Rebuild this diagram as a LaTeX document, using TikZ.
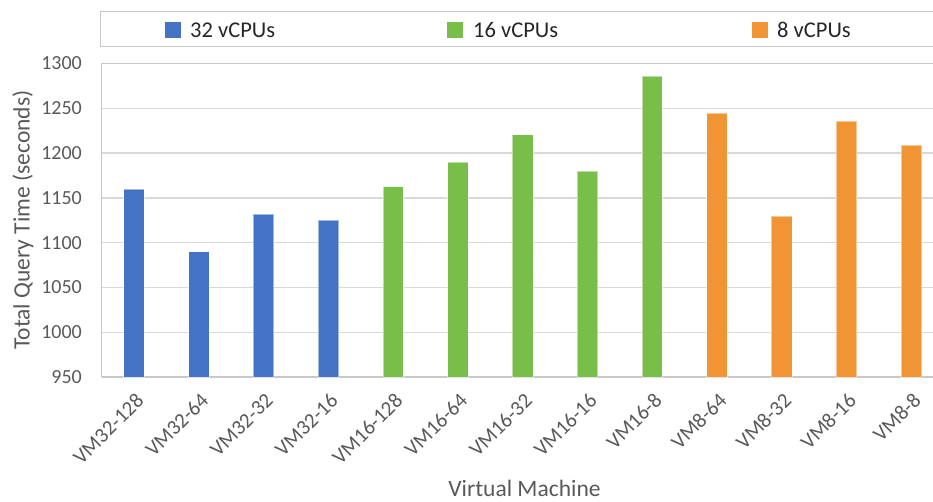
\documentclass[tikz,border=0pt]{standalone}
\usepackage{fontspec}
\setmainfont{Carlito}
\definecolor{cblue}{RGB}{68,114,196}
\definecolor{cgreen}{RGB}{122,190,74}
\definecolor{corange}{RGB}{240,148,52}
\definecolor{gridc}{RGB}{217,217,217}
\definecolor{borderc}{RGB}{200,200,200}
\definecolor{txtc}{RGB}{89,89,89}
\definecolor{legtxt}{RGB}{38,38,38}
\begin{document}
\begin{tikzpicture}[x=1pt,y=-1pt,
  gridline/.style={draw=gridc,line width=1.3pt},
  plotborder/.style={draw=borderc,line width=1.3pt},
  legendbox/.style={draw=borderc,line width=1.3pt},
  ticklabel/.style={text=txtc,font=\fontsize{20}{24}\selectfont,inner sep=0pt},
  xlab/.style={text=txtc,font=\fontsize{21}{25}\selectfont,inner sep=0pt,rotate=45,anchor=east},
  axtitle/.style={text=txtc,font=\fontsize{23.5}{28}\selectfont,inner sep=0pt},
  legtext/.style={text=legtxt,font=\fontsize{22.5}{27}\selectfont,inner sep=0pt,anchor=west},
  bar/.style={draw=white,draw opacity=0.5,line width=0.6pt}]
\useasboundingbox (0,0) rectangle (933,501);
\clip (0,0) rectangle (933,501);
% gridlines
\foreach \v in {1000,1050,...,1250}{
  \draw[gridline] (101.5,{377-(\v-950)*0.8957}) -- (940,{377-(\v-950)*0.8957});
}
\draw[plotborder] (101.5,377) -- (101.5,63.5) -- (940,63.5);
\draw[plotborder] (101.5,377) -- (940,377);
% tick labels
\foreach \v in {950,1000,...,1300}{
  \node[ticklabel,anchor=east] (t\v) at (82,{377-(\v-950)*0.8957}) {\v};
}
% bars
\foreach \i/\v/\c/\n in {1/1160/cblue/VM32-128,2/1090/cblue/VM32-64,3/1131.5/cblue/VM32-32,4/1125/cblue/VM32-16,
  5/1162.5/cgreen/VM16-128,6/1190/cgreen/VM16-64,7/1220.5/cgreen/VM16-32,8/1180/cgreen/VM16-16,9/1285.5/cgreen/VM16-8,
  10/1244.5/corange/VM8-64,11/1129.5/corange/VM8-32,12/1235.5/corange/VM8-16,13/1208.5/corange/VM8-8}{
  \pgfmathsetmacro\xc{134+(\i-1)*64.77}
  \pgfmathsetmacro\yt{377-(\v-950)*0.8957}
  \path[bar,fill=\c] (\xc-10.25,377) rectangle (\xc+10.25,\yt);
  \node[xlab] (x\i) at (\xc+6,397) {\n};
}
% axis titles
\node[axtitle,rotate=90] (ytitle) at (23,220) {Total Query Time (seconds)};
\node[axtitle,anchor=base] (xtitle) at (524.5,496) {Virtual Machine};
% legend
\draw[legendbox] (100.7,11.7) rectangle (945,46.7);
\fill[cblue] (165,22) rectangle (181,38);
\node[legtext] (l1) at (190,30) {32 vCPUs};
\fill[cgreen] (447,22) rectangle (463,38);
\node[legtext] (l2) at (473,30) {16 vCPUs};
\fill[corange] (752,22) rectangle (768,38);
\node[legtext] (l3) at (777,30) {8 vCPUs};
\end{tikzpicture}
\end{document}
